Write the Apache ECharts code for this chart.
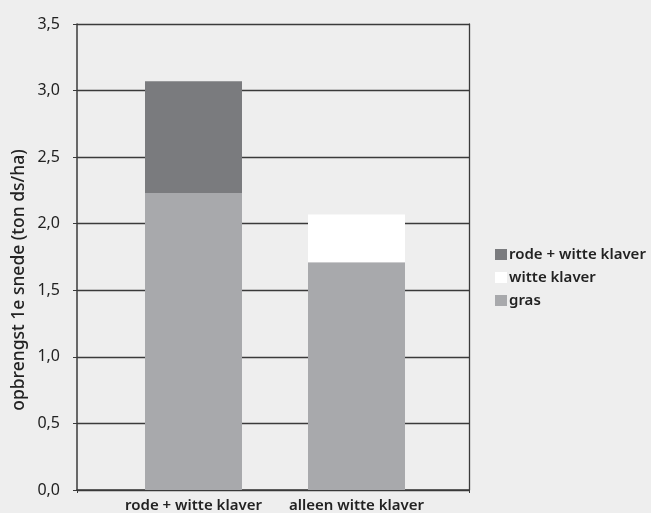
<!DOCTYPE html>
<html>
<head>
<meta charset="utf-8">
<script src="https://cdn.jsdelivr.net/npm/echarts@6/dist/echarts.min.js"></script>
<style>
  html, body { margin: 0; padding: 0; background: #eeeeee; }
  #chart { width: 651px; height: 513px; }
</style>
</head>
<body>
<div id="chart"></div>
<script>
// Yield of the first cut (ton ds/ha), stacked per component
const categories = ['rode + witte klaver', 'alleen witte klaver'];
const gras = [2.23, 1.71];
const witteKlaver = [0, 0.36];
const rodeWitteKlaver = [0.84, 0];
const yTicks = { min: 0, max: 3.5, interval: 0.5 };
const legendOrder = ['rode + witte klaver', 'witte klaver', 'gras'];
const yTitle = 'opbrengst 1e snede (ton ds/ha)';

const FONT = 'Noto Sans';
const chart = echarts.init(document.getElementById('chart'), null, { renderer: 'canvas' });

const frameColor = '#3a3a3a';
const textColor = '#222222';

chart.setOption({
  backgroundColor: '#eeeeee',
  animation: false,
  textStyle: { fontFamily: FONT },
  legend: {
    orient: 'vertical',
    left: 490,
    top: 242,
    itemWidth: 12,
    itemHeight: 11,
    itemGap: 8,
    icon: 'rect',
    data: legendOrder,
    textStyle: { fontFamily: FONT, fontSize: 15, fontWeight: 600, color: textColor, padding: [0, 0, 0, -3] }
  },
  graphic: [
    {
      type: 'text', x: 19, y: 280, rotation: Math.PI / 2,
      style: {
        text: yTitle, fontFamily: FONT, fontSize: 17.5, fontWeight: 500,
        fill: textColor, align: 'center', verticalAlign: 'middle'
      }
    }
  ],
  grid: [
    // frame with gridlines and axis lines
    { left: 77, right: 182, top: 24, bottom: 23, containLabel: false },
    // inner grid carrying the bars and category labels
    { left: 112, right: 213, top: 24, bottom: 23, containLabel: false }
  ],
  xAxis: [
    {
      gridIndex: 0, type: 'category', data: [''],
      axisLine: { show: true, lineStyle: { color: frameColor, width: 1.5 } },
      axisTick: { show: true, length: 3, lineStyle: { color: frameColor } },
      axisLabel: { show: false }, splitLine: { show: false }
    },
    {
      gridIndex: 1, type: 'category', data: categories,
      axisLine: { show: false }, axisTick: { show: false },
      axisLabel: { interval: 0, fontFamily: FONT, fontSize: 15, fontWeight: 600, color: textColor, margin: 8 }
    }
  ],
  yAxis: [
    {
      gridIndex: 0, type: 'value', ...yTicks,
      axisLine: { show: true, lineStyle: { color: frameColor, width: 1.5 } },
      axisTick: { show: true, length: 4, lineStyle: { color: frameColor } },
      axisLabel: {
        fontFamily: FONT, fontSize: 16, color: textColor, margin: 17,
        formatter: v => v.toFixed(1).replace('.', ',')
      },
      splitLine: { show: true, lineStyle: { color: frameColor, width: 1.3 } }
    },
    {
      gridIndex: 0, type: 'value', ...yTicks, position: 'right',
      axisLine: { show: true, lineStyle: { color: frameColor, width: 1.3 } },
      axisTick: { show: false }, axisLabel: { show: false }, splitLine: { show: false }
    },
    {
      gridIndex: 1, type: 'value', ...yTicks, show: false
    }
  ],
  series: [
    {
      name: 'gras', type: 'bar', stack: 'total', xAxisIndex: 1, yAxisIndex: 2,
      barWidth: 97, data: gras, itemStyle: { color: '#a8a9ac' }
    },
    {
      name: 'witte klaver', type: 'bar', stack: 'total', xAxisIndex: 1, yAxisIndex: 2,
      barWidth: 97, data: witteKlaver, itemStyle: { color: '#ffffff' }
    },
    {
      name: 'rode + witte klaver', type: 'bar', stack: 'total', xAxisIndex: 1, yAxisIndex: 2,
      barWidth: 97, data: rodeWitteKlaver, itemStyle: { color: '#7a7b7e' }
    }
  ]
});
</script>
</body>
</html>
